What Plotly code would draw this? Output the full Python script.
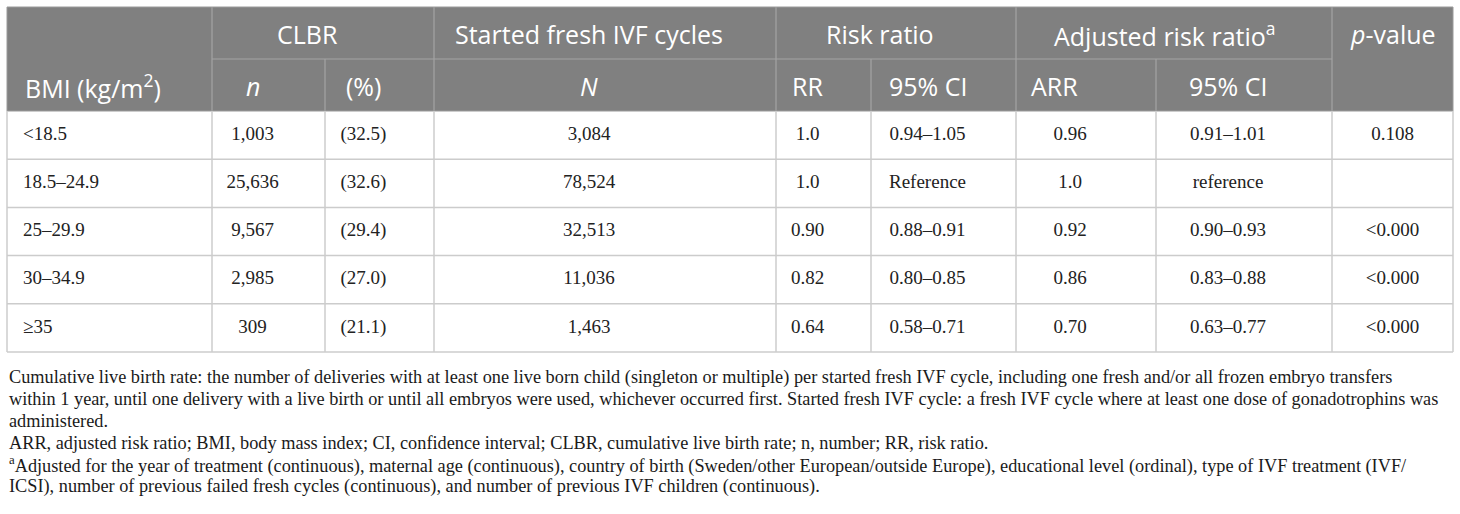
import plotly.graph_objects as go

# table values, one list per column
bmi = ["<18.5", "18.5–24.9", "25–29.9", "30–34.9", "≥35"]
clbr_n = [1003, 25636, 9567, 2985, 309]
clbr_pct = [32.5, 32.6, 29.4, 27.0, 21.1]
cycles_N = [3084, 78524, 32513, 11036, 1463]
rr = ["1.0", "1.0", "0.90", "0.82", "0.64"]
rr_ci = ["0.94–1.05", "Reference", "0.88–0.91", "0.80–0.85", "0.58–0.71"]
arr = ["0.96", "1.0", "0.92", "0.86", "0.70"]
arr_ci = ["0.91–1.01", "reference", "0.90–0.93", "0.83–0.88", "0.63–0.77"]
p_value = ["0.108", "", "<0.000", "<0.000", "<0.000"]

group_headers = ["CLBR", "Started fresh IVF cycles", "Risk ratio",
                 "Adjusted risk ratio<sup>a</sup>", "<i>p</i>-value"]
sub_headers = ["BMI (kg/m<sup>2</sup>)", "<i>n</i>", "(%)", "<i>N</i>",
               "RR", "95% CI", "ARR", "95% CI"]

footnotes = [
    "Cumulative live birth rate: the number of deliveries with at least one live born child (singleton or multiple) per started fresh IVF cycle, including one fresh and/or all frozen embryo transfers",
    "within 1 year, until one delivery with a live birth or until all embryos were used, whichever occurred first. Started fresh IVF cycle: a fresh IVF cycle where at least one dose of gonadotrophins was",
    "administered.",
    "ARR, adjusted risk ratio; BMI, body mass index; CI, confidence interval; CLBR, cumulative live birth rate; n, number; RR, risk ratio.",
    "<sup>a</sup>Adjusted for the year of treatment (continuous), maternal age (continuous), country of birth (Sweden/other European/outside Europe), educational level (ordinal), type of IVF treatment (IVF/",
    "ICSI), number of previous failed fresh cycles (continuous), and number of previous IVF children (continuous).",
]

# layout of the grid (pixels)
W, H = 1460, 514
edges = [7, 212, 325, 434, 776, 871, 1016, 1156, 1332, 1453]
top, head_mid, head_bot = 7, 59, 111
row_h = 48.2
n_rows = len(bmi)
table_bot = head_bot + row_h * n_rows
shift = 16

head_bg = "#808080"
head_line = "#a3a3a3"
body_line = "#cccccc"
serif = "Liberation Serif"
sans = "Open Sans"

columns = [
    bmi,
    [f"{v:,}" for v in clbr_n],
    [f"({v:.1f})" for v in clbr_pct],
    [f"{v:,}" for v in cycles_N],
    rr, rr_ci, arr, arr_ci, p_value,
]

centers = [(edges[i] + edges[i + 1]) / 2 - shift for i in range(len(edges) - 1)]
centers[-1] = (edges[-2] + edges[-1]) / 2
row_y = [head_bot + row_h * (i + 0.5) for i in range(n_rows)]

fig = go.Figure()

# body cells (empty cells skipped)
for i, col in enumerate(columns):
    ys = [y for y, s in zip(row_y, col) if s]
    txt = [s.replace("<", "&lt;") for s in col if s]
    if i == 0:
        xs = [edges[0] + 16] * len(ys)
        pos = "middle right"
    else:
        xs = [centers[i]] * len(ys)
        pos = "middle center"
    fig.add_trace(go.Scatter(
        x=xs, y=ys, mode="text", text=txt, textposition=pos,
        textfont=dict(family=serif, size=19, color="#222222"),
        hoverinfo="skip", showlegend=False))

shapes = []
# header background
shapes.append(dict(type="rect", x0=edges[0], x1=edges[-1], y0=top, y1=head_bot,
                   fillcolor=head_bg, line=dict(width=0), layer="below"))
# header lines
for x in [edges[1], edges[3], edges[4], edges[6], edges[8]]:
    shapes.append(dict(type="line", x0=x, x1=x, y0=top, y1=head_bot,
                       line=dict(color=head_line, width=1.2)))
for x in [edges[2], edges[5], edges[7]]:
    shapes.append(dict(type="line", x0=x, x1=x, y0=head_mid, y1=head_bot,
                       line=dict(color=head_line, width=1.2)))
shapes.append(dict(type="line", x0=edges[1], x1=edges[8], y0=head_mid, y1=head_mid,
                   line=dict(color=head_line, width=1.2)))
shapes.append(dict(type="rect", x0=edges[0], x1=edges[-1], y0=top, y1=head_bot,
                   line=dict(color="#9a9a9a", width=1)))
# body grid
for x in edges:
    shapes.append(dict(type="line", x0=x, x1=x, y0=head_bot, y1=table_bot,
                       line=dict(color=body_line, width=1.5)))
for i in range(1, n_rows + 1):
    y = head_bot + row_h * i
    shapes.append(dict(type="line", x0=edges[0], x1=edges[-1], y0=y, y1=y,
                       line=dict(color=body_line, width=1.5)))

annotations = []
head_font = dict(family=sans, size=25, color="white")
# first header row
group_x = [(edges[1] + edges[3]) / 2 - shift, centers[3],
           (edges[4] + edges[6]) / 2 - shift, (edges[6] + edges[8]) / 2 - 9,
           centers[8]]
for label, x in zip(group_headers, group_x):
    annotations.append(dict(x=x, y=(top + head_mid) / 2 + 1, text=label,
                            showarrow=False, font=head_font,
                            xanchor="center", yanchor="middle"))
# second header row
for i, label in enumerate(sub_headers):
    if i == 0:
        annotations.append(dict(x=edges[0] + 16, y=(head_mid + head_bot) / 2 + 1,
                                text=label, showarrow=False, font=head_font,
                                xanchor="left", yanchor="middle"))
    else:
        x = centers[i] - (16 if label == "ARR" else 0)
        annotations.append(dict(x=x, y=(head_mid + head_bot) / 2 + 1, text=label,
                                showarrow=False, font=head_font,
                                xanchor="center", yanchor="middle"))

# footnotes
for k, line in enumerate(footnotes):
    annotations.append(dict(x=edges[0], y=table_bot + 25 + 21.9 * k, text=line,
                            showarrow=False, xanchor="left", yanchor="middle",
                            font=dict(family=serif, size=18.3, color="#1a1a1a")))

fig.update_layout(
    width=W, height=H,
    margin=dict(l=0, r=0, t=0, b=0),
    paper_bgcolor="white", plot_bgcolor="white",
    xaxis=dict(range=[0, W], visible=False, fixedrange=True),
    yaxis=dict(range=[H, 0], visible=False, fixedrange=True),
    shapes=shapes, annotations=annotations,
    showlegend=False,
)

# drop the page's default body margin so the figure sits at the window corner
fig.write_html("out.html", config={"displayModeBar": False},
               post_script="document.body.style.margin='0px';")
